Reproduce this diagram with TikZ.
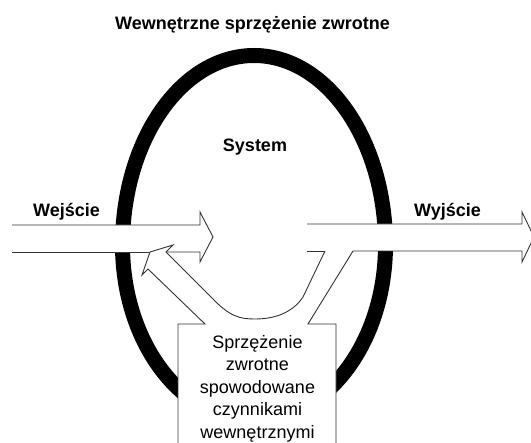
\documentclass[tikz,border=0pt]{standalone}
\usepackage{fontspec}
\setmainfont{Liberation Sans}
\begin{document}
\begin{tikzpicture}[x=1pt,y=-1pt,
  bold/.style={font=\bfseries\fontsize{18}{21}\selectfont, inner sep=0pt, anchor=base},
  boxtext/.style={font=\fontsize{18}{22.5}\selectfont, inner sep=0pt, anchor=base, align=center},
  outline/.style={draw=black!80, line width=0.9pt, line join=miter},
  ring/.style={draw=black, line width=15pt}]
  % canvas
  \fill[white] (0,0) rectangle (531,443);
  \useasboundingbox (0,0) rectangle (531,443);

  % the system boundary: egg-shaped ring, taller below than above
  \draw[ring] (122.5,245) arc[start angle=180, end angle=0, x radius=131.5pt, y radius=189.5pt]
                         arc[start angle=0, end angle=-180, x radius=131.5pt, y radius=175.5pt] -- cycle;

  % input arrow
  \fill[white] (12,225) -- (200,225) -- (200,212) -- (213,237) -- (200,262) -- (200,252) -- (12,252) -- cycle;
  \draw[outline] (12,225) -- (200,225) -- (200,212) -- (213,237) -- (200,262) -- (200,252) -- (166,252);
  \draw[outline] (150,252) -- (12,252);

  % output arrow
  \fill[white] (307,224) -- (522,224) -- (522,212) -- (534,237) -- (522,262) -- (522,251) -- (307,251) -- cycle;
  \draw[outline] (307,224) -- (522,224) -- (522,212) -- (534,237) -- (522,262) -- (522,251) -- (353,251);
  \draw[outline] (307,251) -- (325,251);

  % feedback channel: box with two arms, the left one ending in an arrowhead
  \fill[white] (178,460) -- (178,324) -- (205,324) -- (148,269) -- (142,275) -- (150,252) -- (173,245)
    -- (166,252) -- (211,297) .. controls (230,317) and (240,319) .. (255,319)
    .. controls (276,319) and (293,312) .. (303,297) -- (325,251) -- (353,251)
    -- (308,324) -- (336,324) -- (336,460) -- cycle;
  \draw[outline] (178,460) -- (178,324) -- (205,324) -- (148,269) -- (142,275) -- (150,252) -- (173,245)
    -- (166,252) -- (211,297) .. controls (230,317) and (240,319) .. (255,319)
    .. controls (276,319) and (293,312) .. (303,297) -- (325,251);
  \draw[outline] (353,251) -- (308,324) -- (336,324) -- (336,460);

  % labels
  \node[bold] (title) at (252.5,30) {Wewnętrzne sprzężenie zwrotne};
  \node[bold] (system) at (255,152) {System};
  \node[bold] (input) at (66.5,216.5) {Wejście};
  \node[bold] (output) at (447.5,216.5) {Wyjście};
  % anchored at the baseline of its last line
  \node[boxtext] (feedback) at (257.5,438.3)
    {Sprzężenie\\zwrotne\\spowodowane\\czynnikami\\wewnętrznymi};
\end{tikzpicture}
\end{document}
